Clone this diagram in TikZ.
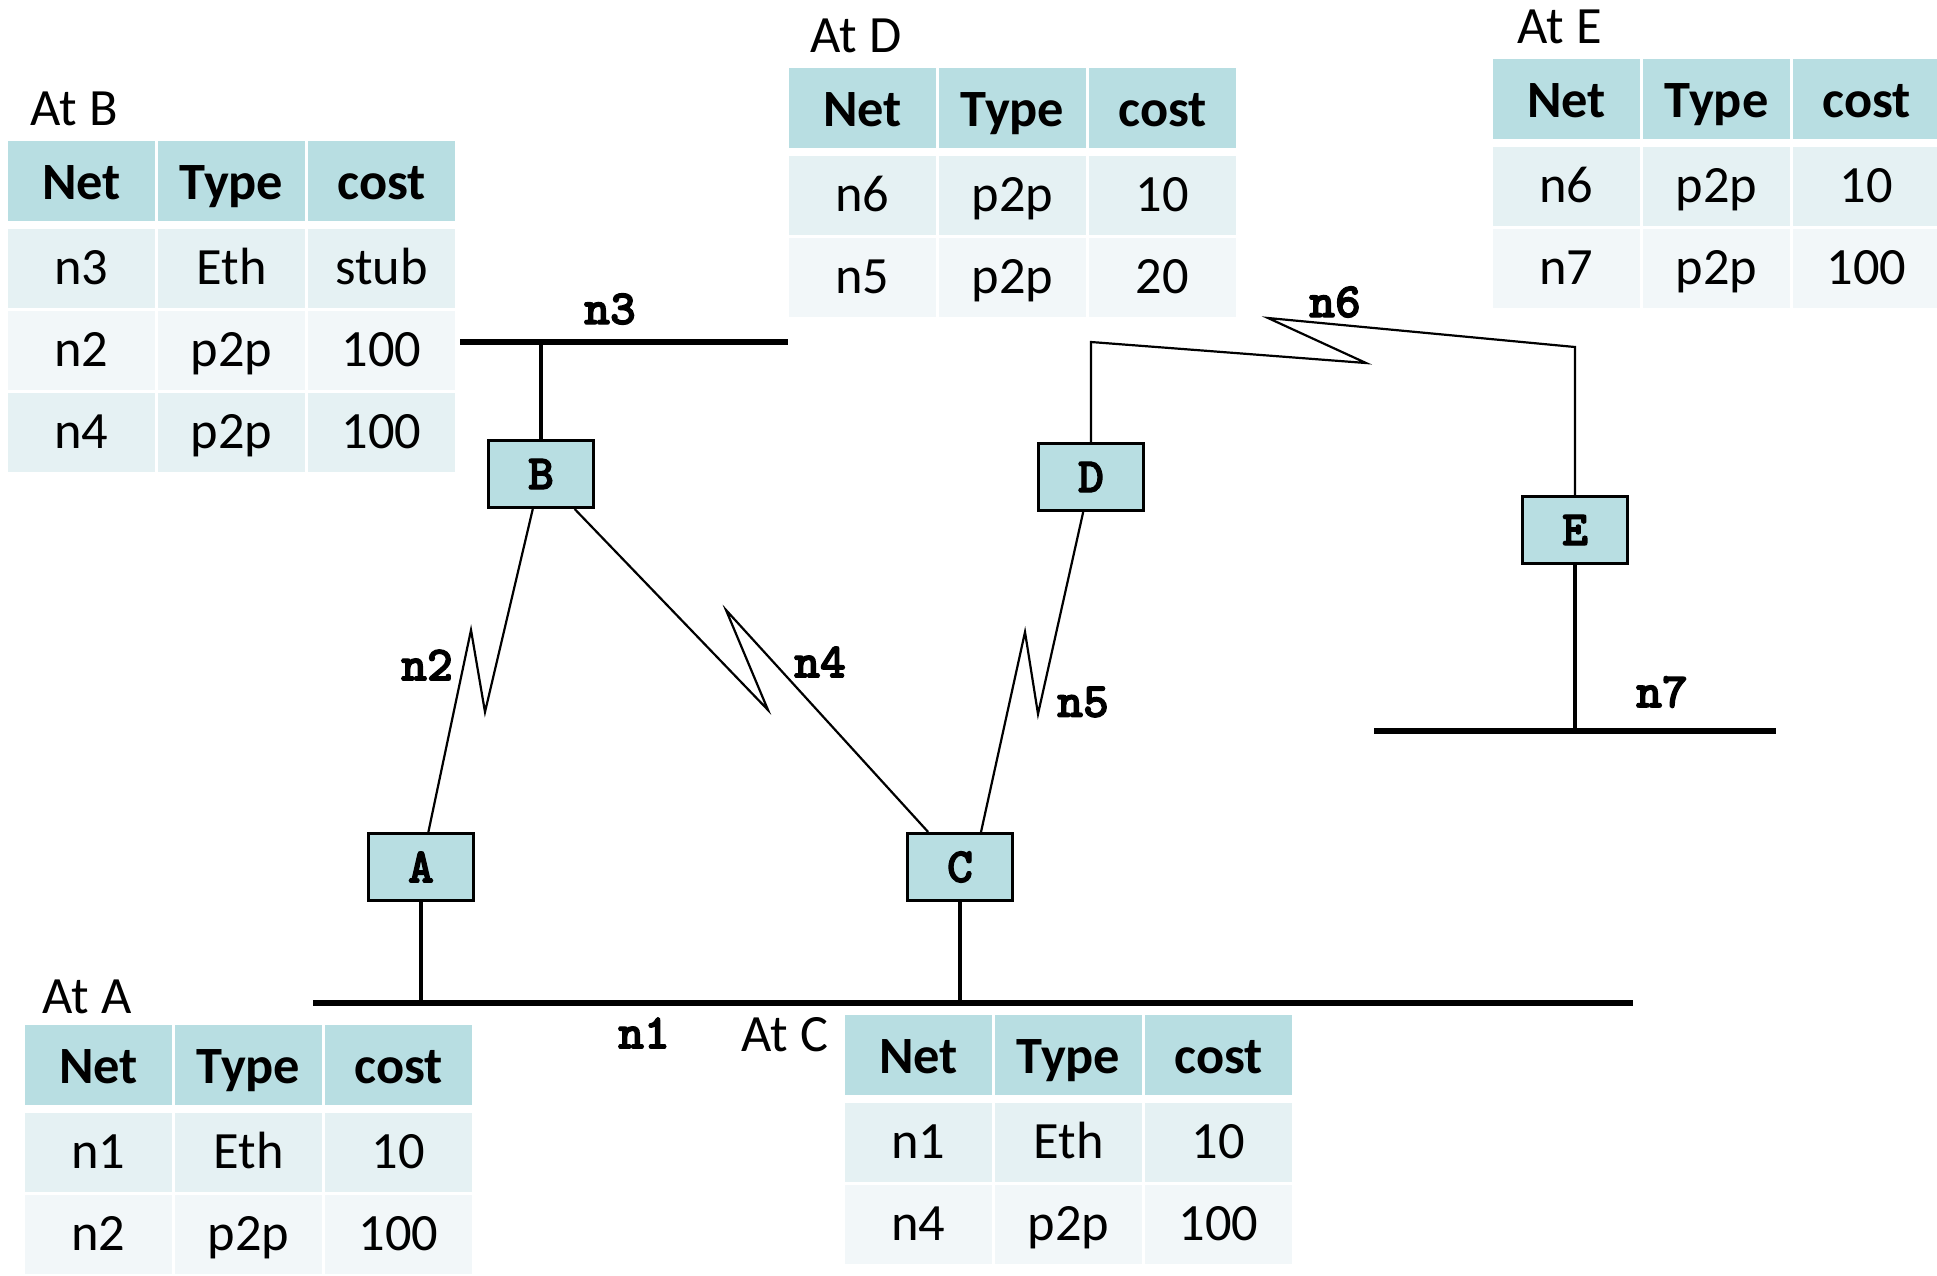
\documentclass[tikz,border=0pt]{standalone}
\usepackage{fontspec}
\setmainfont{Carlito}
\newfontfamily\netfont{lmmonolt10-bold.otf}[FakeBold=2.5]
\usetikzlibrary{positioning}

\definecolor{hdrcol}{RGB}{184,222,226}
\definecolor{rowa}{RGB}{229,241,243}
\definecolor{rowb}{RGB}{242,247,249}

% routing table: name, left x, top y, rows net/type/cost
\newcommand{\rtable}[4]{%
  \node[hdr] (#1-h1) at (#2+73.5,#3+40) {Net};
  \node[hdr] (#1-h2) at (#2+223.5,#3+40) {Type};
  \node[hdr] (#1-h3) at (#2+373.5,#3+40) {cost};
  \foreach \rnet/\rtype/\rcost [count=\k] in {#4} {
    \ifodd\k \def\rowc{rowa}\else \def\rowc{rowb}\fi
    \node[cell, fill=\rowc] (#1-\k-1) at (#2+73.5,#3+127.5+82*\k-82) {\rnet};
    \node[cell, fill=\rowc] (#1-\k-2) at (#2+223.5,#3+127.5+82*\k-82) {\rtype};
    \node[cell, fill=\rowc] (#1-\k-3) at (#2+373.5,#3+127.5+82*\k-82) {\rcost};
  }
}

\begin{document}
\begin{tikzpicture}[x=0.01cm, y=-0.01cm,
router/.style = {draw, fill = hdrcol, line width = 0.03cm, minimum width = 1.04cm, minimum height = 0.67cm, inner sep = 0, font = \netfont\fontsize{14}{16}\selectfont},
hdr/.style = {fill = hdrcol, minimum width = 1.47cm, minimum height = 0.80cm, inner sep = 0, text height = 0.48cm, text depth = 0.12cm, font = \bfseries\fontsize{14.9}{17}\selectfont},
cell/.style = {minimum width = 1.47cm, minimum height = 0.79cm, inner sep = 0, text height = 0.43cm, text depth = 0.12cm, font = \fontsize{14.9}{17}\selectfont},
title/.style = {anchor = base west, inner sep = 0, font = \fontsize{14.9}{17}\selectfont},
netlbl/.style = {inner sep = 0, font = \netfont\fontsize{14}{16}\selectfont},
bus/.style = {line width = 0.06cm},
stem/.style = {line width = 0.04cm},
link/.style = {line width = 0.022cm},
]
\useasboundingbox (0,0) rectangle (1937,1275);

% routers
\node[router] (A) at (421,867) {A};
\node[router] (B) at (541,474) {B};
\node[router] (C) at (960,867) {C};
\node[router] (D) at (1091,477) {D};
\node[router] (E) at (1575,530) {E};

% ethernet segments
\coordinate (n1l) at (313,1003);
\coordinate (n1r) at (1633,1003);
\coordinate (n3l) at (460,342);
\coordinate (n3r) at (788,342);
\coordinate (n7l) at (1374,731);
\coordinate (n7r) at (1776,731);
\draw[bus] (n1l) -- (n1r);
\draw[bus] (n3l) -- (n3r);
\draw[bus] (n7l) -- (n7r);

\draw[stem] (A.south) -- (A.south |- n1l);
\draw[stem] (C.south) -- (C.south |- n1l);
\draw[stem] (B.north) -- (B.north |- n3l);
\draw[stem] (E.south) -- (E.south |- n7l);

% point-to-point links
\coordinate (n2a) at (485,712);
\coordinate (n2b) at (471,630);
\draw[link] (B) -- (n2a) -- (n2b) -- (A);

\coordinate (n4a) at (768,710);
\coordinate (n4b) at (726,610);
\draw[link] (B) -- (n4a) -- (n4b) -- (C);

\coordinate (n5a) at (1038,714);
\coordinate (n5b) at (1025,632);
\draw[link] (D) -- (n5a) -- (n5b) -- ([xshift=0.21cm]C.north);

\coordinate (n6a) at (1091,342);
\coordinate (n6b) at (1366,363);
\coordinate (n6c) at (1268,318);
\coordinate (n6d) at (1575,347);
\draw[link] (D.north) -- (n6a) -- (n6b) -- (n6c) -- (n6d) -- (E.north);

% network names
\node[netlbl] (l1) at (644,1033) {n1};
\node[netlbl] (l2) at (427,665) {n2};
\node[netlbl] (l3) at (610,309) {n3};
\node[netlbl] (l4) at (820,662) {n4};
\node[netlbl] (l5) at (1083,702) {n5};
\node[netlbl] (l6) at (1335,302) {n6};
\node[netlbl] (l7) at (1662,692) {n7};

% tables
\node[title] (tA) at (42,1013) {At A};
\rtable{TA}{25}{1025}{n1/Eth/10, n2/p2p/100}
\node[title] (tB) at (30,125) {At B};
\rtable{TB}{8}{141}{n3/Eth/stub, n2/p2p/100, n4/p2p/100}
\node[title] (tC) at (741,1051) {At C};
\rtable{TC}{845}{1015}{n1/Eth/10, n4/p2p/100}
\node[title] (tD) at (810,52) {At D};
\rtable{TD}{789}{68}{n6/p2p/10, n5/p2p/20}
\node[title] (tE) at (1517,43) {At E};
\rtable{TE}{1493}{59}{n6/p2p/10, n7/p2p/100}
\end{tikzpicture}
\end{document}
